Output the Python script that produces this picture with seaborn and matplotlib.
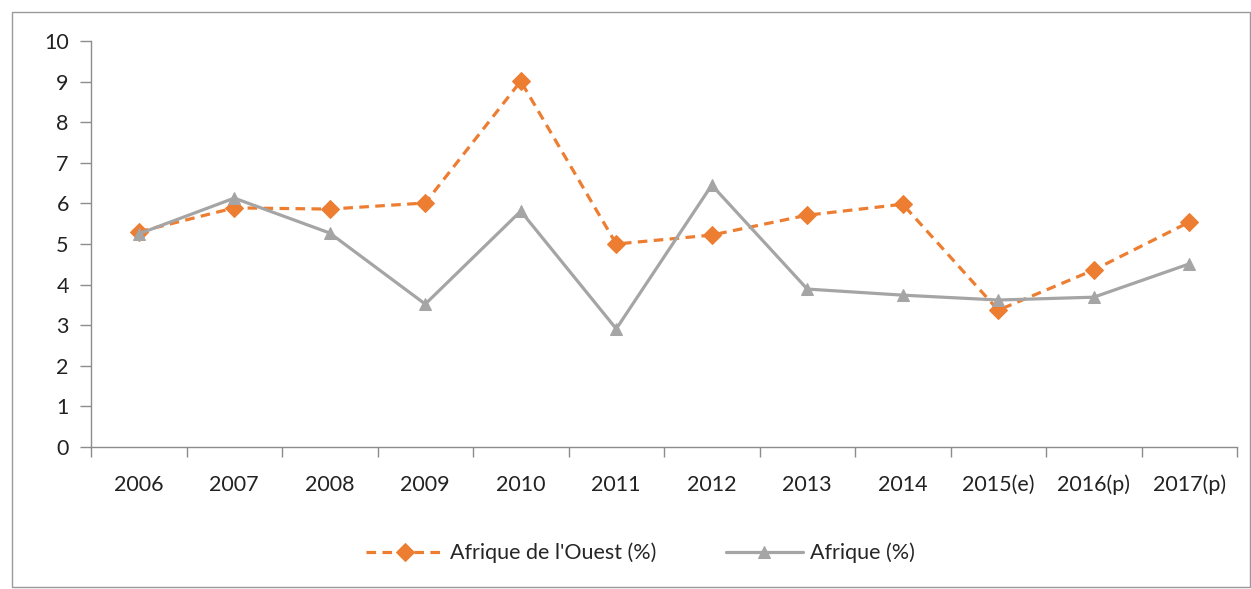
import pandas as pd
import matplotlib.pyplot as plt
import seaborn as sns
from matplotlib.patches import Rectangle

years = ['2006', '2007', '2008', '2009', '2010', '2011', '2012', '2013',
         '2014', '2015(e)', '2016(p)', '2017(p)']
ouest = [5.30, 5.89, 5.86, 6.01, 9.01, 5.00, 5.22, 5.71, 5.98, 3.37, 4.36, 5.54]
afrique = [5.25, 6.13, 5.27, 3.52, 5.81, 2.91, 6.45, 3.89, 3.74, 3.62, 3.69, 4.51]

ORANGE = '#ED7D31'
GRAY = '#A5A5A5'
AXIS = '#8C8C8C'

df = pd.DataFrame({'annee': years, 'ouest': ouest, 'afrique': afrique})

sns.set_style('white')
plt.rcParams['font.family'] = ['Lato', 'DejaVu Sans']

fig = plt.figure(figsize=(12.51, 5.89), dpi=100)
ax = fig.add_axes([91 / 1251, 1 - 447 / 589, (1237 - 91) / 1251, (447 - 41) / 589])

sns.lineplot(data=df, x='annee', y='ouest', ax=ax, sort=False, color=ORANGE,
             linewidth=2.3, linestyle=(0, (3, 2)), marker='D', markersize=9,
             markeredgecolor=ORANGE, label="Afrique de l'Ouest (%)")
sns.lineplot(data=df, x='annee', y='afrique', ax=ax, sort=False, color=GRAY,
             linewidth=2.3, marker='^', markersize=9,
             markeredgecolor=GRAY, label='Afrique (%)')

ax.set_xlim(-0.5, len(years) - 0.5)
ax.set_ylim(0, 10)
ax.set_yticks(range(0, 11))
ax.set_xticks(range(len(years)))
ax.set_xticklabels(years)
ax.set_xticks([i - 0.5 for i in range(len(years) + 1)], minor=True)
ax.tick_params(axis='x', which='major', bottom=True, length=0, pad=20,
               labelsize=15.5, colors='#222222')
ax.tick_params(axis='x', which='minor', bottom=True, length=7, width=1,
               color=AXIS, direction='out')
ax.tick_params(axis='y', left=True, length=8, width=1, color=AXIS, direction='out',
               pad=8, labelsize=15.5, labelcolor='#222222')
ax.set_xlabel('')
ax.set_ylabel('')

for s in ['top', 'right']:
    ax.spines[s].set_visible(False)
for s in ['left', 'bottom']:
    ax.spines[s].set_color(AXIS)
    ax.spines[s].set_linewidth(1)

leg = ax.legend(loc='center', ncol=2, frameon=False, fontsize=15.5, handlelength=3.6,
                columnspacing=3.2, handletextpad=0.3)
leg.set_bbox_to_anchor((0.512, 1 - 553 / 589), transform=fig.transFigure)

fig.patches.append(Rectangle((12 / 1251, 1 - 587 / 589), (1250 - 12) / 1251, (587 - 12) / 589,
                             transform=fig.transFigure, fill=False, edgecolor='#9A9A9A',
                             linewidth=1))

plt.savefig('out.png', dpi=100)
plt.close()
